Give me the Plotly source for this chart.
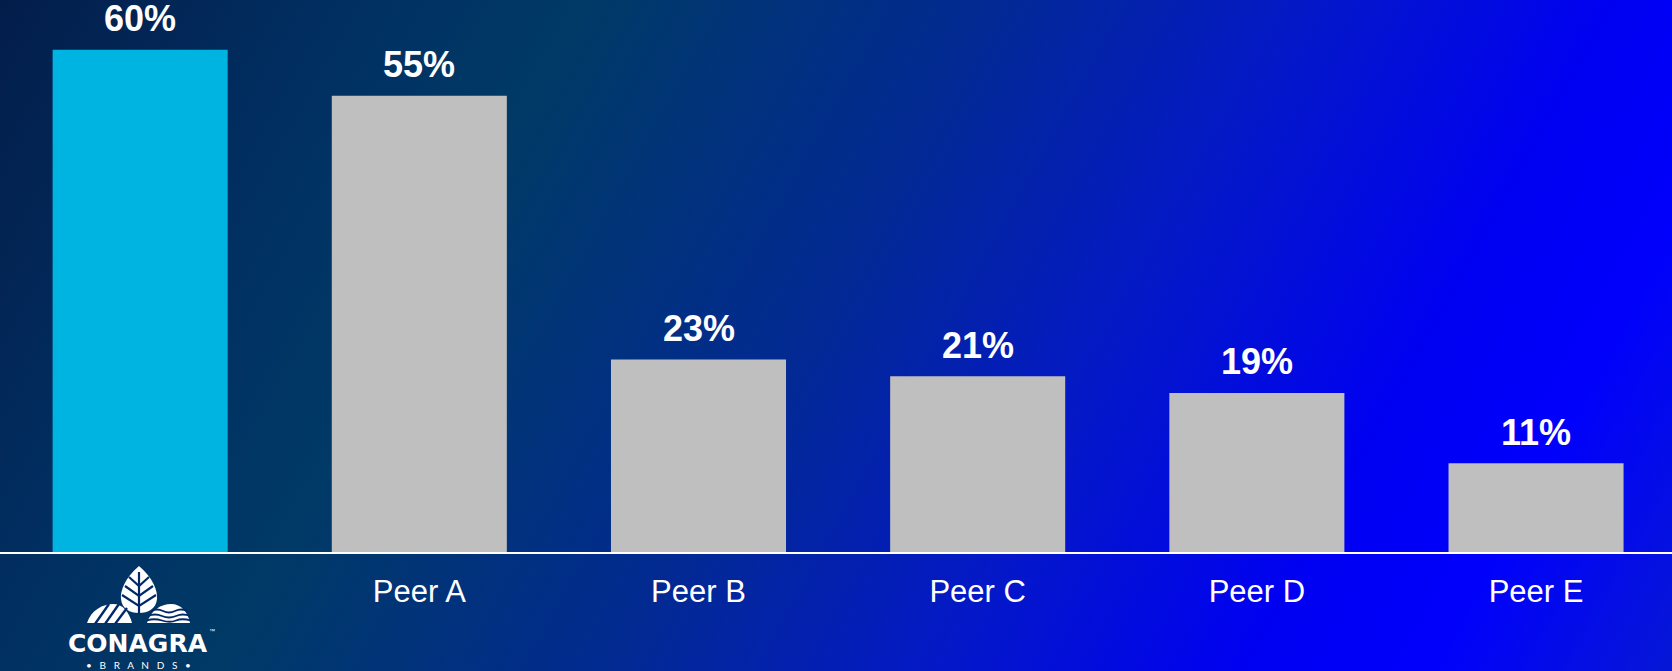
import base64
import plotly.graph_objects as go

# ---- data ----
categories = ["Conagra", "Peer A", "Peer B", "Peer C", "Peer D", "Peer E"]
tick_labels = ["", "Peer A", "Peer B", "Peer C", "Peer D", "Peer E"]
values = [60, 54.5, 23, 21, 19, 10.6]
value_labels = ["60%", "55%", "23%", "21%", "19%", "11%"]
bar_colors = ["#00b4e2", "#bfbfbf", "#bfbfbf", "#bfbfbf", "#bfbfbf", "#bfbfbf"]

W, H = 1672, 671
MB = 119  # bottom margin, baseline at y=552

# ---- background gradient (svg) ----
bg_svg = f'''<svg xmlns="http://www.w3.org/2000/svg" width="{W}" height="{H}" viewBox="0 0 {W} {H}" preserveAspectRatio="none">
<defs><linearGradient id="g" gradientUnits="userSpaceOnUse" x1="0" y1="0" x2="{W}" y2="929">
<stop offset="0" stop-color="#031d4a"/>
<stop offset="0.16" stop-color="#012f62"/>
<stop offset="0.27" stop-color="#003a66"/>
<stop offset="0.45" stop-color="#022a92"/>
<stop offset="0.60" stop-color="#0418c8"/>
<stop offset="0.74" stop-color="#0000f2"/>
<stop offset="0.82" stop-color="#0000fc"/>
<stop offset="1" stop-color="#0a24c0"/>
</linearGradient></defs>
<rect x="0" y="0" width="{W}" height="{H}" fill="url(#g)"/>
</svg>'''
bg_src = "data:image/svg+xml;base64," + base64.b64encode(bg_svg.encode()).decode()

# ---- logo graphic (leaf + mounds) ----
dk = "#01286a"
logo_svg = f'''<svg xmlns="http://www.w3.org/2000/svg" width="107" height="60" viewBox="0 0 107 60">
<path d="M54 2 C68 14 73 27 72 35 C71 45 63 49 54 49 C45 49 37 45 36 35 C35 27 40 14 54 2 Z" fill="white"/>
<g stroke="{dk}" stroke-width="2.2" fill="none">
<line x1="54" y1="8" x2="54" y2="50"/>
<polyline points="40,22 54,32 68,22"/>
<polyline points="37,31 54,42 71,31"/>
<polyline points="44,13 54,22 64,13"/>
</g>
<path d="M2 59 C6 46 18 40 28 40 C38 40 44 48 47 59 Z" fill="white"/>
<g stroke="{dk}" stroke-width="2.4">
<line x1="10" y1="60" x2="24" y2="40"/>
<line x1="20" y1="60" x2="34" y2="40"/>
<line x1="30" y1="60" x2="42" y2="44"/>
</g>
<path d="M62 59 C66 46 76 40 86 40 C96 40 103 48 105 59 Z" fill="white"/>
<g stroke="{dk}" stroke-width="1.8" fill="none">
<path d="M66 47 Q72 44 78 47 T90 47 T102 47"/>
<path d="M63 52 Q70 49 77 52 T91 52 T105 52"/>
<path d="M62 56.5 Q69 54 77 56.5 T91 56.5 T106 56.5"/>
</g>
</svg>'''
logo_src = "data:image/svg+xml;base64," + base64.b64encode(logo_svg.encode()).decode()

plot_h = H - MB


def py(p):
    """pixel y from top -> paper y"""
    return (plot_h - p) / plot_h


def px(p):
    return p / W


fig = go.Figure()
fig.add_trace(go.Bar(
    x=list(range(len(categories))),
    y=values,
    marker=dict(color=bar_colors, line=dict(width=0)),
    width=0.627,
    hoverinfo="skip",
))

annotations = []
for i, (v, lab) in enumerate(zip(values, value_labels)):
    annotations.append(dict(
        x=i, y=v, xref="x", yref="y", text=f"<b>{lab}</b>", showarrow=False,
        yanchor="middle", yshift=31, borderpad=0,
        font=dict(family="Liberation Sans, Arial, sans-serif", size=36, color="white"),
    ))

annotations.append(dict(
    x=px(138), y=py(643), xref="paper", yref="paper", text="<b>CONAGRA</b>",
    showarrow=False, xanchor="center", yanchor="middle",
    font=dict(family="DejaVu Sans, Verdana, sans-serif", size=25, color="white"),
))
annotations.append(dict(
    x=px(212), y=py(631), xref="paper", yref="paper", text="™",
    showarrow=False, xanchor="center", yanchor="middle",
    font=dict(family="Liberation Sans, Arial, sans-serif", size=6, color="white"),
))
annotations.append(dict(
    x=px(138), y=py(665), xref="paper", yref="paper",
    text="•   B   R   A   N   D   S   •",
    showarrow=False, xanchor="center", yanchor="middle",
    font=dict(family="Lato, Open Sans, sans-serif", size=10, color="white"),
))

fig.update_layout(
    width=W, height=H,
    margin=dict(l=0, r=0, t=0, b=MB, pad=0),
    paper_bgcolor="#02237a",
    plot_bgcolor="rgba(0,0,0,0)",
    showlegend=False,
    annotations=annotations,
    images=[
        dict(source=bg_src, xref="paper", yref="paper", x=0, y=1,
             sizex=1, sizey=H / plot_h, xanchor="left", yanchor="top",
             sizing="stretch", layer="below"),
        dict(source=logo_src, xref="paper", yref="paper", x=px(85), y=py(564),
             sizex=107 / W, sizey=60 / plot_h, xanchor="left", yanchor="top",
             sizing="stretch", layer="above"),
    ],
    xaxis=dict(
        range=[-0.502, 5.487],
        tickmode="array",
        tickvals=list(range(len(categories))),
        ticktext=tick_labels,
        showgrid=False, zeroline=False,
        showline=True, linecolor="white", linewidth=2,
        ticks="",
        ticklabelstandoff=11,
        tickfont=dict(family="Liberation Sans, Arial, sans-serif", size=31, color="white"),
        fixedrange=True,
    ),
    yaxis=dict(
        range=[0, 65.93],
        visible=False, showgrid=False, zeroline=False,
        fixedrange=True,
    ),
)

fig.write_html("out.html", config={"displayModeBar": False})
